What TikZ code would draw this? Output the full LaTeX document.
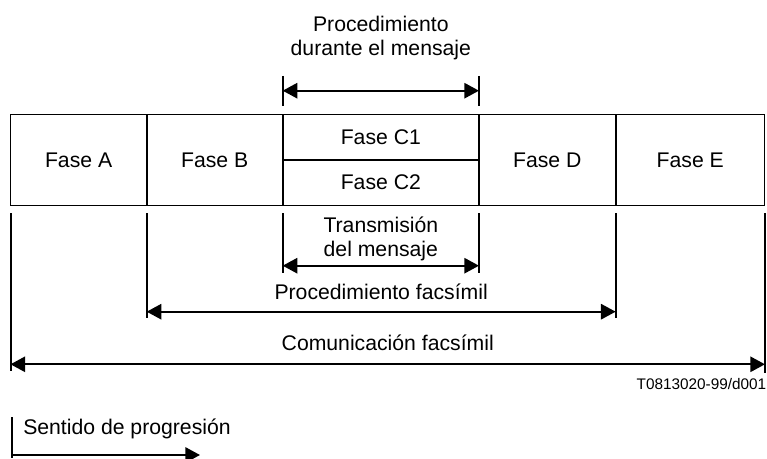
\documentclass[tikz,border=0pt]{standalone}
\usepackage{fontspec}
\setmainfont{Liberation Sans}
\usetikzlibrary{positioning,arrows.meta,calc}

\begin{document}
\begin{tikzpicture}[
    x=0.75pt, y=-0.75pt,
    >={Triangle[length=11pt,width=11.5pt]},
    phase/.style={
        rectangle,
        draw,
        line width=0.75pt,
        outer sep=0pt,
        inner sep=0pt,
        minimum height=68.1pt,
        font=\fontsize{15.9}{18}\selectfont
    },
    half/.style={
        phase,
        minimum width=147.2pt,
        minimum height=34.05pt
    },
    lbl/.style={
        inner sep=0pt,
        align=center,
        font=\fontsize{15.9}{18}\selectfont
    },
    divider/.style={line width=1.5pt},
    ext/.style={line width=1.5pt},
    dim/.style={<->, line width=1.5pt}
]
\useasboundingbox (0,0) rectangle (767,459);

% the five phases
\node[phase, minimum width=102.15pt] (faseA) at (78.6,159.9) {Fase A};
\node[phase, minimum width=102pt, right=0pt of faseA] (faseB) {Fase B};
\node[half, anchor=north west] (faseC1) at (faseB.north east) {Fase C1};
\node[half, below=0pt of faseC1] (faseC2) {Fase C2};
\node[phase, minimum width=102.5pt, anchor=north west] (faseD) at (faseC1.north east) {Fase D};
\node[phase, minimum width=112pt, right=0pt of faseD] (faseE) {Fase E};

\draw[divider] (faseB.north west) -- (faseB.south west);
\draw[divider] (faseC1.north west) -- (faseC2.south west);
\draw[divider] (faseD.north west) -- (faseD.south west);
\draw[divider] (faseE.north west) -- (faseE.south west);
\draw[divider] (faseC1.south west) -- (faseC1.south east);

% procedure during the message
\draw[ext] (faseC1.north west |- 0,76) -- (faseC1.north west |- 0,106);
\draw[ext] (faseC1.north east |- 0,76) -- (faseC1.north east |- 0,106);
\coordinate (durL) at (faseC1.north west |- 0,90.7);
\coordinate (durR) at (faseC1.north east |- 0,90.7);
\draw[dim] (durL) -- node[lbl, yshift=39.6pt] (durText) {Procedimiento\\durante el mensaje} (durR);

% extension lines
\draw[ext] ([yshift=-6pt]faseA.south west) -- (faseA.south west |- 0,371);
\draw[ext] ([yshift=-6pt]faseB.south west) -- (faseB.south west |- 0,318);
\draw[ext] ([yshift=-6pt]faseC2.south west) -- (faseC2.south west |- 0,273);
\draw[ext] ([yshift=-6pt]faseC2.south east) -- (faseC2.south east |- 0,273);
\draw[ext] ([yshift=-6pt]faseE.south west) -- (faseE.south west |- 0,318);
\draw[ext] ([yshift=-6pt]faseE.south east) -- (faseE.south east |- 0,373);

% dimension arrows
\coordinate (traL) at (faseC2.south west |- 0,265.7);
\coordinate (traR) at (faseC2.south east |- 0,265.7);
\draw[dim] (traL) -- node[lbl, yshift=20pt] (traText) {Transmisión\\del mensaje} (traR);

\coordinate (proL) at (faseB.south west |- 0,311.7);
\coordinate (proR) at (faseE.south west |- 0,311.7);
\draw[dim] (proL) -- node[lbl, anchor=base, yshift=9.3pt] (proText) {Procedimiento facsímil} (proR);

\coordinate (comL) at (faseA.south west |- 0,364.3);
\coordinate (comR) at (faseE.south east |- 0,364.3);
\draw[dim] (comL) -- node[lbl, anchor=base, yshift=10pt] (comText) {Comunicación facsímil} (comR);

\node[inner sep=0pt, anchor=base east, font=\fontsize{11.5}{14}\selectfont] (refText) at (766.5,389) {T0813020-99/d001};

% direction of progression
\node[lbl, anchor=base west] (sentText) at (23,434.3) {Sentido de progresión};
\coordinate (sentL) at (11.7,455);
\coordinate (sentR) at (200,455);
\draw[ext] (11.7,417) -- (11.7,458);
\draw[->, line width=1.5pt] (sentL) -- (sentR);

\end{tikzpicture}
\end{document}
